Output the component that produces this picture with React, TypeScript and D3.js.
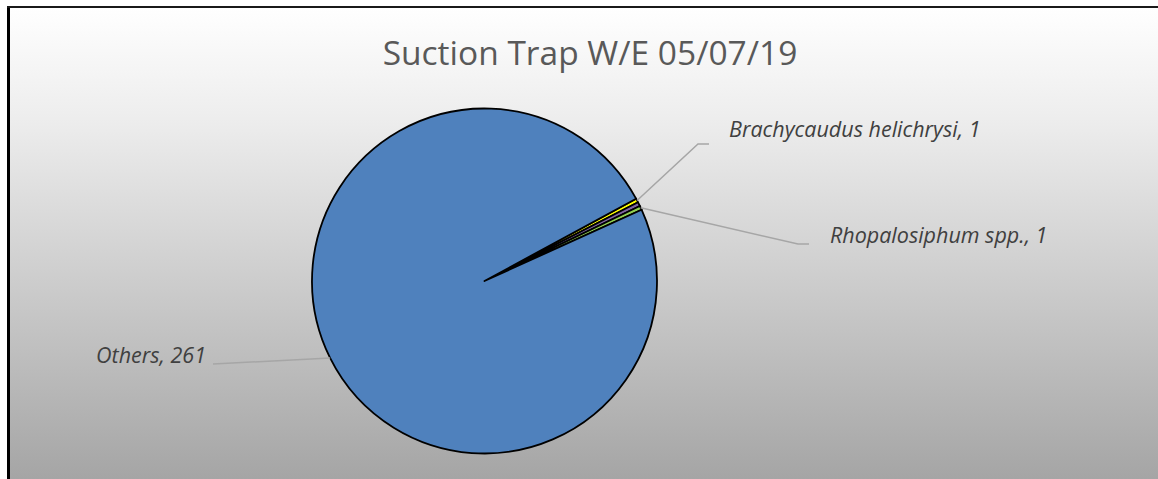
import React from "react";
import * as d3 from "d3";

const TITLE = "Suction Trap W/E 05/07/19";
const categories = ["Brachycaudus helichrysi", "", "Rhopalosiphum spp.", "Others"];
const values = [1, 1, 1, 261];
const colors = ["#FFFF00", "#8064A2", "#92D050", "#4F81BD"];
const showLabel = [true, false, true, true];

const W = 1158;
const H = 479;
const cx = 484.5;
const cy = 281;
const R = 172.5;
const startDeg = 61.5;

// label layout: [elbow point, end point, text anchor point, anchor]
const labelLayout: Record<number, { elbow: [number, number]; end: [number, number]; text: [number, number]; anchor: string }> = {
  0: { elbow: [698, 144], end: [709, 144], text: [729, 137], anchor: "start" },
  2: { elbow: [798, 244], end: [809, 244], text: [830, 243], anchor: "start" },
  3: { elbow: [213, 364], end: [213, 364], text: [206, 363], anchor: "end" },
};

export default function App() {
  const pie = d3
    .pie<number>()
    .sort(null)
    .startAngle((startDeg * Math.PI) / 180)
    .endAngle((startDeg * Math.PI) / 180 + 2 * Math.PI);
  const arcs = pie(values);
  const arcGen = d3.arc<d3.PieArcDatum<number>>().innerRadius(0).outerRadius(R);

  const edgePoint = (i: number): [number, number] => {
    const a = arcs[i];
    let mid = (a.startAngle + a.endAngle) / 2;
    if (i === 3) {
      const y = 358 - cy;
      const x = -Math.sqrt(R * R - y * y);
      return [cx + x, cy + y];
    }
    return [cx + Math.sin(mid) * R, cy - Math.cos(mid) * R];
  };

  return (
    <svg
      width={W}
      height={H}
      style={{ position: "absolute", left: 0, top: 0, display: "block" }}
    >
      <defs>
        <linearGradient id="bg" x1="0" y1="0" x2="0" y2="1">
          <stop offset="0" stopColor="#ffffff" />
          <stop offset="0.25" stopColor="#ececec" />
          <stop offset="1" stopColor="#a5a5a5" />
        </linearGradient>
      </defs>
      <rect x={9} y={7} width={W - 9} height={H - 7} fill="url(#bg)" />
      <line x1={8.5} y1={7} x2={8.5} y2={H} stroke="#000" strokeWidth={3} />
      <line x1={7} y1={7} x2={W} y2={7} stroke="#1a1a1a" strokeWidth={2.2} />

      <text
        x={590}
        y={65}
        textAnchor="middle"
        fontFamily="'Open Sans', sans-serif"
        fontSize={33.5}
        fill="#595959"
      >
        {TITLE}
      </text>

      <g transform={`translate(${cx},${cy})`}>
        {arcs.map((a, i) => (
          <path
            key={i}
            d={arcGen(a) || ""}
            fill={colors[i]}
            stroke="#000"
            strokeWidth={1.8}
            strokeLinejoin="round"
          />
        ))}
      </g>

      {arcs.map((a, i) => {
        if (!showLabel[i]) return null;
        const L = labelLayout[i];
        const p = edgePoint(i);
        const pts = [p, L.elbow, L.end];
        return (
          <g key={"l" + i}>
            <polyline
              points={pts.map((q) => q.join(",")).join(" ")}
              fill="none"
              stroke="#a6a6a6"
              strokeWidth={1.5}
            />
            <text
              x={L.text[0]}
              y={L.text[1]}
              textAnchor={L.anchor}
              fontFamily="'Open Sans', sans-serif"
              fontStyle="italic"
              fontSize={21.5}
              fill="#404040"
            >
              {categories[i]}, {a.data}
            </text>
          </g>
        );
      })}
    </svg>
  );
}
